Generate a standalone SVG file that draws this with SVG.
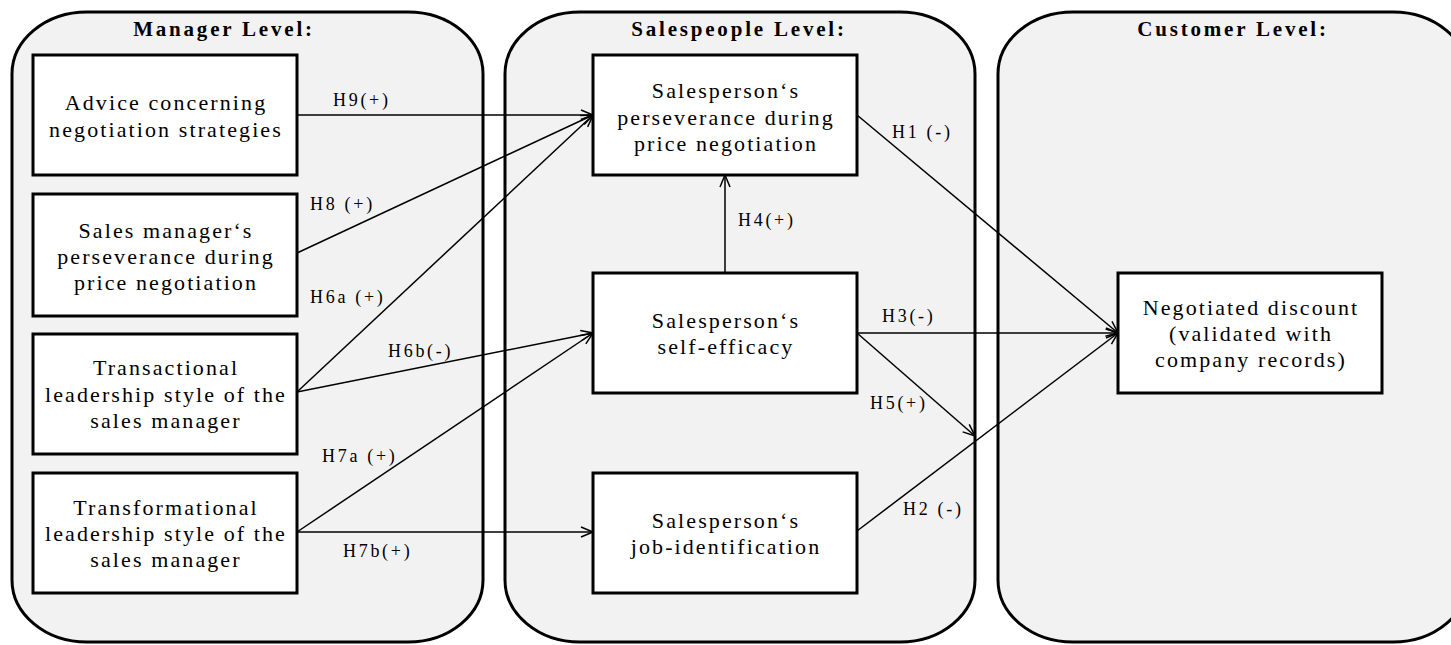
<svg xmlns="http://www.w3.org/2000/svg" width="1451" height="645" viewBox="0 0 1451 645">
<style>
.lvl{fill:#f2f2f2;stroke:#000;stroke-width:3}
.box{fill:#fff;stroke:#000;stroke-width:3}
.hd{font-weight:bold;font-size:21px;letter-spacing:2.8px;text-anchor:middle;fill:#000}
.tx{font-size:22px;letter-spacing:2.1px;text-anchor:middle;fill:#000}
.lb{font-size:18px;letter-spacing:2.7px;fill:#000}
.cn{stroke:#000;stroke-width:1.5;fill:none}
</style>
<defs>
<marker id="arr" markerUnits="userSpaceOnUse" markerWidth="16" markerHeight="14" refX="13" refY="6" orient="auto">
<path d="M1,1 L13,6 L1,11" fill="none" stroke="#000" stroke-width="1.5"/>
</marker>
</defs>
<g font-family="'Liberation Serif', 'Times New Roman', 'DejaVu Serif', serif">
<g id="levels">
<rect class="lvl" x="12" y="12" width="471" height="630" rx="75" ry="62"/>
<rect class="lvl" x="505" y="12" width="470" height="630" rx="75" ry="62"/>
<rect class="lvl" x="998" y="12" width="470" height="630" rx="75" ry="62"/>
<text class="hd" x="224" y="36">Manager Level:</text>
<text class="hd" x="739" y="36">Salespeople Level:</text>
<text class="hd" x="1233" y="36">Customer Level:</text>
</g>
<g id="connectors">
<line class="cn" x1="297" y1="115" x2="593" y2="115" marker-end="url(#arr)"/>
<line class="cn" x1="297" y1="253" x2="593" y2="115" marker-end="url(#arr)"/>
<line class="cn" x1="297" y1="392" x2="593" y2="115" marker-end="url(#arr)"/>
<line class="cn" x1="297" y1="392" x2="593" y2="333" marker-end="url(#arr)"/>
<line class="cn" x1="297" y1="532" x2="593" y2="333" marker-end="url(#arr)"/>
<line class="cn" x1="297" y1="532" x2="593" y2="532" marker-end="url(#arr)"/>
<line class="cn" x1="725" y1="273" x2="725" y2="175" marker-end="url(#arr)"/>
<line class="cn" x1="857" y1="115" x2="1118" y2="333" marker-end="url(#arr)"/>
<line class="cn" x1="857" y1="333" x2="1118" y2="333" marker-end="url(#arr)"/>
<line class="cn" x1="857" y1="333" x2="975" y2="436" marker-end="url(#arr)"/>
<line class="cn" x1="857" y1="531" x2="1118" y2="333" marker-end="url(#arr)"/>
<text class="lb" x="333" y="106">H9(+)</text>
<text class="lb" x="310" y="210">H8 (+)</text>
<text class="lb" x="310" y="303">H6a (+)</text>
<text class="lb" x="388" y="357">H6b(-)</text>
<text class="lb" x="322" y="462">H7a (+)</text>
<text class="lb" x="343" y="557">H7b(+)</text>
<text class="lb" x="892" y="138">H1 (-)</text>
<text class="lb" x="738" y="226">H4(+)</text>
<text class="lb" x="882" y="322">H3(-)</text>
<text class="lb" x="870" y="409">H5(+)</text>
<text class="lb" x="903" y="515">H2 (-)</text>
</g>
<g id="advice">
<rect class="box" x="33" y="55" width="264" height="120"/>
<text class="tx" x="166" y="110">Advice concerning</text>
<text class="tx" x="166" y="137">negotiation strategies</text>
</g>
<g id="mgr-perseverance">
<rect class="box" x="33" y="194" width="264" height="122"/>
<text class="tx" x="166" y="238">Sales manager‘s</text>
<text class="tx" x="166" y="264">perseverance during</text>
<text class="tx" x="166" y="290">price negotiation</text>
</g>
<g id="transactional">
<rect class="box" x="33" y="334" width="264" height="120"/>
<text class="tx" x="166" y="375">Transactional</text>
<text class="tx" x="166" y="402">leadership style of the</text>
<text class="tx" x="166" y="428">sales manager</text>
</g>
<g id="transformational">
<rect class="box" x="33" y="473" width="264" height="120"/>
<text class="tx" x="166" y="515">Transformational</text>
<text class="tx" x="166" y="541">leadership style of the</text>
<text class="tx" x="166" y="567">sales manager</text>
</g>
<g id="sp-perseverance">
<rect class="box" x="593" y="55" width="264" height="120"/>
<text class="tx" x="726" y="98">Salesperson‘s</text>
<text class="tx" x="726" y="125">perseverance during</text>
<text class="tx" x="726" y="151">price negotiation</text>
</g>
<g id="self-efficacy">
<rect class="box" x="593" y="273" width="264" height="120"/>
<text class="tx" x="726" y="328">Salesperson‘s</text>
<text class="tx" x="726" y="354">self-efficacy</text>
</g>
<g id="job-identification">
<rect class="box" x="593" y="473" width="264" height="120"/>
<text class="tx" x="726" y="528">Salesperson‘s</text>
<text class="tx" x="726" y="554">job-identification</text>
</g>
<g id="discount">
<rect class="box" x="1118" y="273" width="264" height="120"/>
<text class="tx" x="1251" y="315">Negotiated discount</text>
<text class="tx" x="1251" y="341">(validated with</text>
<text class="tx" x="1251" y="367">company records)</text>
</g>
</g>
</svg>
